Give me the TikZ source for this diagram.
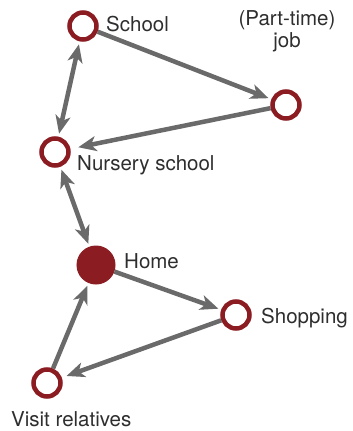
\documentclass[tikz,border=0pt]{standalone}
\usepackage{fontspec}
\setmainfont{TeX Gyre Heros}
\usetikzlibrary{arrows.meta}
\definecolor{ring}{HTML}{8A1C22}
\definecolor{arr}{HTML}{6A6A6A}
\definecolor{txt}{HTML}{2E2E2E}
\begin{document}
\begin{tikzpicture}[x=1pt,y=-1pt,
  place/.style={circle,draw=ring,line width=4.5pt,fill=white,minimum size=27pt,inner sep=0pt,outer sep=2.25pt},
  homeplace/.style={circle,draw=ring,fill=ring,line width=1pt,minimum size=38pt,inner sep=0pt,outer sep=0.5pt},
  lbl/.style={text=txt,font=\fontsize{20.5}{22}\selectfont,inner sep=0pt},
  tip/.style={Stealth[length=18pt,width=15pt,inset=5pt]},
  link/.style={draw=arr,line width=4.5pt,-{Stealth[length=18pt,width=15pt,inset=5pt]},shorten >=3pt},
  dlink/.style={draw=arr,line width=4.5pt,{Stealth[length=18pt,width=15pt,inset=5pt]}-{Stealth[length=18pt,width=15pt,inset=5pt]},shorten >=3pt,shorten <=3pt}]
\useasboundingbox (0,0) rectangle (353,431);
\node[place] (school) at (83,26) {};
\node[place] (job) at (286,105) {};
\node[place] (nursery) at (55,152) {};
\node[homeplace] (home) at (96,265) {};
\node[place] (shop) at (236,315) {};
\node[place] (visit) at (47,383) {};
\node[lbl,anchor=base west] (tschool) at (106,31) {School};
\node[lbl,anchor=base,align=center] (tjob) at (287,47) {(Part-time)\\job};
\node[lbl,anchor=base west] (tnursery) at (77,170) {Nursery school};
\node[lbl,anchor=base west] (thome) at (124,268) {Home};
\node[lbl,anchor=base west] (tshop) at (261,323) {Shopping};
\node[lbl,anchor=base west] (tvisit) at (11,426) {Visit relatives};
\draw[dlink] (school) -- (nursery);
\draw[link] (school) -- (job);
\draw[link,shorten >=8pt] (job) -- (nursery);
\draw[dlink] (nursery) -- (home);
\draw[link] (home) -- (shop);
\draw[link,shorten >=5pt] (shop) -- (visit);
\draw[link] (visit) -- (home);
\end{tikzpicture}
\end{document}
